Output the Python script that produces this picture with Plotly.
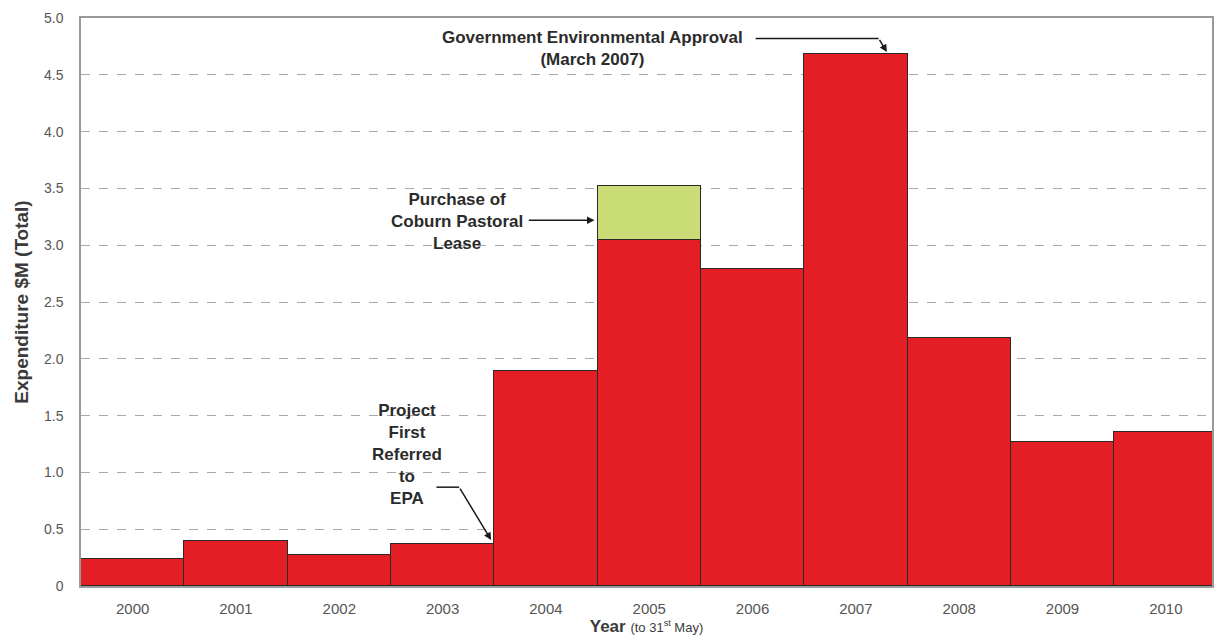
import plotly.graph_objects as go

years = ['2000', '2001', '2002', '2003', '2004', '2005', '2006', '2007', '2008', '2009', '2010']
expenditure = [0.24, 0.40, 0.27, 0.37, 1.89, 3.05, 2.79, 4.68, 2.18, 1.27, 1.36]
coburn_lease = [None, None, None, None, None, 0.47, None, None, None, None, None]
y_ticks = [0, 0.5, 1.0, 1.5, 2.0, 2.5, 3.0, 3.5, 4.0, 4.5, 5.0]
y_tick_labels = ['0', '0.5', '1.0', '1.5', '2.0', '2.5', '3.0', '3.5', '4.0', '4.5', '5.0']

xpos = list(range(len(years)))
FONT = 'Liberation Sans, Arial, sans-serif'

fig = go.Figure()
fig.add_trace(go.Bar(x=xpos, y=expenditure, width=1.0, marker=dict(color='#E31E24', line=dict(color='#2a2a2a', width=1.5)),
                     name='Expenditure'))
fig.add_trace(go.Bar(x=xpos, y=coburn_lease, width=1.0, marker=dict(color='#C9DC75', line=dict(color='#2a2a2a', width=1.5)),
                     name='Coburn Pastoral Lease'))

# arrow helper lines
line_style = dict(color='#1a1a1a', width=1.5)
fig.add_shape(type='line', xref='x', yref='y', x0=6.03, y0=4.82, x1=7.22, y1=4.82, line=line_style)
fig.add_shape(type='line', xref='x', yref='y', x0=2.94, y0=0.87, x1=3.16, y1=0.87, line=line_style)

ann_font = dict(family=FONT, size=17, color='#2b2b2b')
fig.add_annotation(x=4.45, y=4.73, xref='x', yref='y', showarrow=False, font=ann_font,
                   text='<b>Government Environmental Approval</b><br><b>(March 2007)</b>')
fig.add_annotation(x=7.30, y=4.70, ax=7.22, ay=4.82, xref='x', yref='y', axref='x', ayref='y',
                   showarrow=True, arrowhead=2, arrowsize=1, arrowwidth=1.5, arrowcolor='#1a1a1a', text='')
fig.add_annotation(x=3.14, y=3.21, xref='x', yref='y', showarrow=False, font=ann_font,
                   text='<b>Purchase of</b><br><b>Coburn Pastoral</b><br><b>Lease</b>')
fig.add_annotation(x=4.47, y=3.22, ax=3.82, ay=3.22, xref='x', yref='y', axref='x', ayref='y',
                   showarrow=True, arrowhead=2, arrowsize=1, arrowwidth=1.5, arrowcolor='#1a1a1a', text='')
fig.add_annotation(x=2.66, y=1.16, xref='x', yref='y', showarrow=False, font=ann_font,
                   text='<b>Project</b><br><b>First</b><br><b>Referred</b><br><b>to</b><br><b>EPA</b>')
fig.add_annotation(x=3.47, y=0.405, ax=3.16, ay=0.87, xref='x', yref='y', axref='x', ayref='y',
                   showarrow=True, arrowhead=2, arrowsize=1, arrowwidth=1.5, arrowcolor='#1a1a1a', text='')

fig.update_layout(
    width=1214, height=641,
    margin=dict(l=81, r=0, t=18, b=55),
    paper_bgcolor='white', plot_bgcolor='white',
    barmode='stack', bargap=0, showlegend=False,
    font=dict(family=FONT, color='#555555'),
    xaxis=dict(range=[-0.5, 10.447], tickmode='array', tickvals=xpos, ticktext=years,
               showgrid=False, zeroline=False, showline=True, linecolor='#9a9a9a', linewidth=1.5, mirror=True,
               ticks='', ticklabelstandoff=8, tickfont=dict(size=15, color='#555555'),
               title=dict(text='<b>Year</b> <span style="font-size:13px">(to 31<sup>st</sup> May)</span>',
                          font=dict(size=17, color='#3a3a3a'), standoff=2)),
    yaxis=dict(range=[0, 5], tickmode='array', tickvals=y_ticks, ticktext=y_tick_labels,
               showgrid=True, gridcolor='#a8a8a8', griddash='dash', gridwidth=1,
               zeroline=False, showline=True, linecolor='#9a9a9a', linewidth=1.5, mirror=True,
               ticks='', ticklabelstandoff=13, tickfont=dict(size=14, color='#555555'),
               title=dict(text='<b>Expenditure $M (Total)</b>', font=dict(size=19, color='#3a3a3a'), standoff=10)),
)
fig.write_html('out.html')
